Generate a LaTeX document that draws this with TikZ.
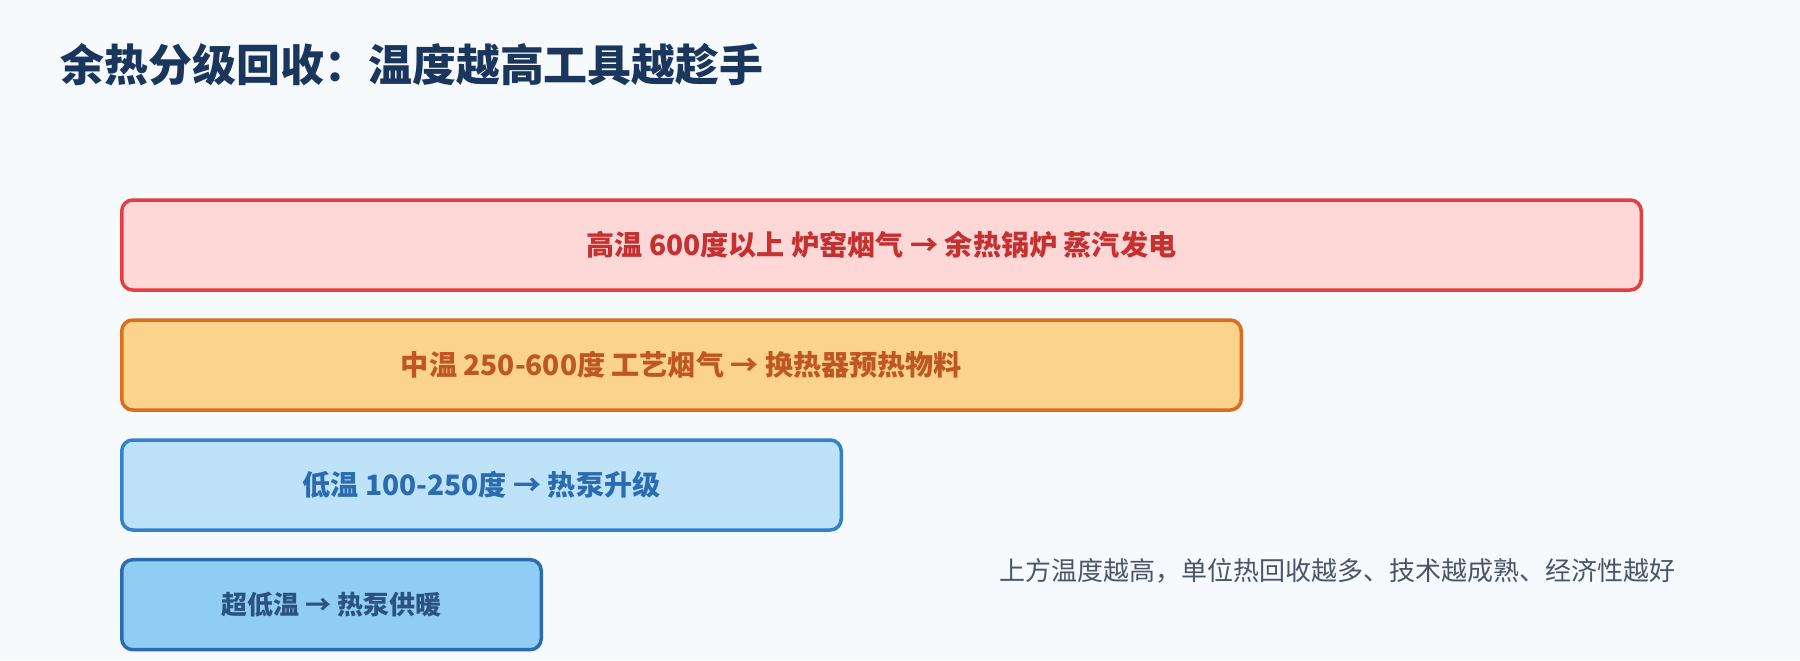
\documentclass[tikz,border=0pt]{standalone}
\usepackage{fontspec}
\setmainfont{Noto Sans CJK SC}
\usepackage{tikz}
\usetikzlibrary{positioning}
\definecolor{pagebg}{HTML}{F7FAFC}
\definecolor{titleblue}{HTML}{1A365D}
\definecolor{notegray}{HTML}{4A5568}
\definecolor{hifill}{HTML}{FED7D7}
\definecolor{hidraw}{HTML}{E53E3E}
\definecolor{hitext}{HTML}{C53030}
\definecolor{midfill}{HTML}{FBD38D}
\definecolor{middraw}{HTML}{DD6B20}
\definecolor{midtext}{HTML}{C05621}
\definecolor{lofill}{HTML}{BEE3F8}
\definecolor{lodraw}{HTML}{3182CE}
\definecolor{lotext}{HTML}{2B6CB0}
\definecolor{ulfill}{HTML}{90CDF4}
\definecolor{uldraw}{HTML}{2B6CB0}
\definecolor{ultext}{HTML}{2C5282}
\tikzset{
  tier/.style={draw,anchor=west,rounded corners=0.11cm,line width=0.035cm,minimum height=0.9cm,inner sep=0pt,font=\bfseries\fontsize{8}{9.6}\selectfont},
  hot/.style={fill=hifill,draw=hidraw,text=hitext},
  warm/.style={fill=midfill,draw=middraw,text=midtext},
  cool/.style={fill=lofill,draw=lodraw,text=lotext},
  cold/.style={fill=ulfill,draw=uldraw,text=ultext,font=\bfseries\fontsize{7.4}{8.9}\selectfont},
  heading/.style={anchor=west,inner sep=0pt,text=titleblue,font=\bfseries\fontsize{12.5}{15}\selectfont},
  remark/.style={inner sep=0pt,text=notegray,font=\fontsize{7.4}{8.9}\selectfont}
}
\begin{document}
\begin{tikzpicture}
\fill[pagebg] (0,0) rectangle (18,6.6);
\useasboundingbox (0,0) rectangle (18,6.6);
\node[heading] (title) at (0.6,5.95) {余热分级回收：温度越高工具越趁手};
\node[tier,hot,minimum width=15.195cm] (high) at (1.2,4.15) {高温 600度以上 炉窑烟气 → 余热锅炉 蒸汽发电};
\node[tier,warm,minimum width=11.195cm] (mid) at (1.2,2.95) {中温 250-600度 工艺烟气 → 换热器预热物料};
\node[tier,cool,minimum width=7.195cm] (low) at (1.2,1.75) {低温 100-250度 → 热泵升级};
\node[tier,cold,minimum width=4.195cm] (ultra) at (1.2,0.553) {超低温 → 热泵供暖};
\node[remark] (note) at (13.375,0.893) {上方温度越高，单位热回收越多、技术越成熟、经济性越好};
\end{tikzpicture}
\end{document}
